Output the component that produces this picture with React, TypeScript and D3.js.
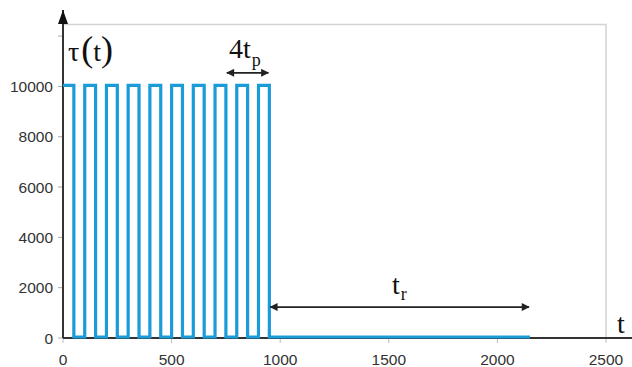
import React, { useEffect, useRef } from "react";
import * as d3 from "d3";

// Step series: tau(t) (curveStepAfter)
const times = [0, 50, 100, 150, 200, 250, 300, 350, 400, 450, 500, 550, 600, 650, 700, 750, 800, 850, 900, 950, 2150];
const tauValues = [10000, 0, 10000, 0, 10000, 0, 10000, 0, 10000, 0, 10000, 0, 10000, 0, 10000, 0, 10000, 0, 10000, 0, 0];

const xTicks = [0, 500, 1000, 1500, 2000, 2500];
const yTicks = [0, 2000, 4000, 6000, 8000, 10000, 12000];
const yTickLabels = ["0", "2000", "4000", "6000", "8000", "10000", ""];

// annotations: [t start, t end, value level]
const periodArrow = [750, 950, 10540];
const restArrow = [950, 2150, 1230];

const W = 632;
const H = 367;
const BLUE = "#1b9bd8";
const DARK = "#333333";

export default function App() {
  const ref = useRef<SVGSVGElement>(null);

  useEffect(() => {
    const svg = d3.select(ref.current);
    svg.selectAll("*").remove();

    const x = d3.scaleLinear().domain([0, 2500]).range([63, 606]);
    const y = d3.scaleLinear().domain([0, 12460]).range([338, 24.5]);

    const defs = svg.append("defs");
    defs
      .append("marker")
      .attr("id", "ah")
      .attr("viewBox", "0 0 10 10")
      .attr("refX", 9)
      .attr("refY", 5)
      .attr("markerWidth", 10)
      .attr("markerHeight", 8)
      .attr("markerUnits", "userSpaceOnUse")
      .attr("orient", "auto-start-reverse")
      .append("path")
      .attr("d", "M0,0 L10,5 L0,10 z")
      .attr("fill", "#222");

    // frame (top + right)
    svg
      .append("path")
      .attr("d", `M${x(0)},${y(12460)} H${x(2500)} V${y(0)}`)
      .attr("fill", "none")
      .attr("stroke", "#d4d4d4")
      .attr("stroke-width", 1.5);

    // y ticks
    const yAxis = svg.append("g");
    yTicks.forEach((v, i) => {
      yAxis
        .append("line")
        .attr("x1", x(0) - 5)
        .attr("x2", x(0))
        .attr("y1", y(v))
        .attr("y2", y(v))
        .attr("stroke", "#aaa")
        .attr("stroke-width", 1);
      yAxis
        .append("text")
        .attr("x", 53)
        .attr("y", y(v))
        .attr("dy", "0.36em")
        .attr("text-anchor", "end")
        .attr("font-family", "Liberation Sans, Arial, sans-serif")
        .attr("font-size", 15.5)
        .attr("fill", DARK)
        .text(yTickLabels[i]);
    });

    // x ticks
    const xAxis = svg.append("g");
    xTicks.forEach((v) => {
      xAxis
        .append("line")
        .attr("x1", x(v))
        .attr("x2", x(v))
        .attr("y1", y(0))
        .attr("y2", y(0) + 5)
        .attr("stroke", "#bbb")
        .attr("stroke-width", 1);
      xAxis
        .append("text")
        .attr("x", x(v))
        .attr("y", 365)
        .attr("text-anchor", "middle")
        .attr("font-family", "Liberation Sans, Arial, sans-serif")
        .attr("font-size", 15.5)
        .attr("fill", DARK)
        .text(String(v));
    });

    // x axis line
    svg
      .append("line")
      .attr("x1", x(0))
      .attr("x2", W)
      .attr("y1", y(0))
      .attr("y2", y(0))
      .attr("stroke", DARK)
      .attr("stroke-width", 2);

    // y axis with arrow
    svg
      .append("line")
      .attr("x1", x(0))
      .attr("x2", x(0))
      .attr("y1", y(0))
      .attr("y2", 10)
      .attr("stroke", DARK)
      .attr("stroke-width", 2);
    svg
      .append("path")
      .attr("d", `M${x(0)},10 L${x(0) - 5},24 L${x(0) + 5},24 Z`)
      .attr("fill", "#111");

    // tau line
    const pts = times.map((t, i) => [t, tauValues[i]] as [number, number]);
    const line = d3
      .line<[number, number]>()
      .x((d) => x(d[0]))
      .y((d) => y(d[1]) - 1)
      .curve(d3.curveStepAfter);
    svg
      .append("path")
      .attr("d", line(pts))
      .attr("fill", "none")
      .attr("stroke", BLUE)
      .attr("stroke-width", 3.2)
      .attr("stroke-linejoin", "miter");

    // arrows
    const drawArrow = (a: number[]) => {
      svg
        .append("line")
        .attr("x1", x(a[0]) + 1)
        .attr("x2", x(a[1]) - 1)
        .attr("y1", y(a[2]))
        .attr("y2", y(a[2]))
        .attr("stroke", "#222")
        .attr("stroke-width", 1.8)
        .attr("marker-start", "url(#ah)")
        .attr("marker-end", "url(#ah)");
    };
    drawArrow(periodArrow);
    drawArrow(restArrow);

    const serif = "Liberation Serif, Times New Roman, serif";

    // tau(t) label
    const tl = svg
      .append("text")
      .attr("x", 68)
      .attr("y", 61)
      .attr("font-family", serif)
      .attr("fill", "#111");
    tl.append("tspan").attr("font-size", 28).text("τ");
    tl.append("tspan").attr("font-size", 36).attr("dx", 2).text("(");
    tl.append("tspan").attr("font-size", 28).text("t");
    tl.append("tspan").attr("font-size", 36).text(")");

    // 4tp label
    const pl = svg
      .append("text")
      .attr("x", 229)
      .attr("y", 58)
      .attr("font-family", serif)
      .attr("fill", "#111");
    pl.append("tspan").attr("font-size", 28).text("4t");
    pl.append("tspan").attr("font-size", 18).attr("dy", 8).attr("dx", 1).text("p");

    // tr label
    const rl = svg
      .append("text")
      .attr("x", 392)
      .attr("y", 294)
      .attr("font-family", serif)
      .attr("fill", "#111");
    rl.append("tspan").attr("font-size", 28).text("t");
    rl.append("tspan").attr("font-size", 18).attr("dy", 6).attr("dx", 1).text("r");

    // t axis label
    svg
      .append("text")
      .attr("x", 617)
      .attr("y", 333)
      .attr("font-family", serif)
      .attr("font-size", 28)
      .attr("fill", "#111")
      .text("t");
  }, []);

  return (
    <svg
      ref={ref}
      width={W}
      height={H}
      style={{ position: "absolute", left: 0, top: 0, background: "#fff" }}
    />
  );
}
